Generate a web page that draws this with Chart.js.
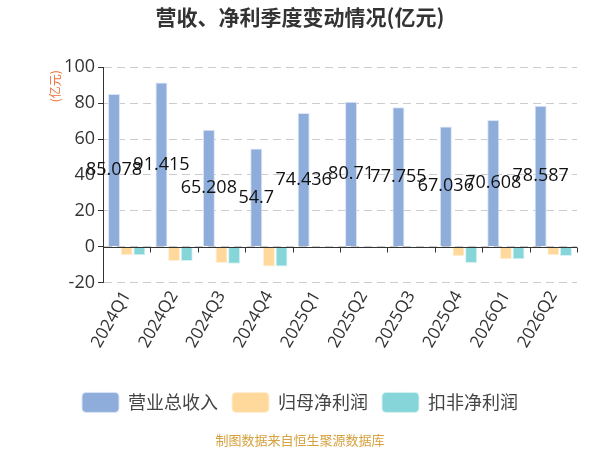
<!DOCTYPE html>
<html><head><meta charset="utf-8">
<script src="https://cdn.jsdelivr.net/npm/chart.js@4"></script>
<style>html,body{margin:0;padding:0;background:#fff}#wrap{width:600px;height:450px}</style>
</head><body><div id="wrap"><canvas id="c"></canvas></div>
<script>
const categories = ['2024Q1','2024Q2','2024Q3','2024Q4','2025Q1','2025Q2','2025Q3','2025Q4','2026Q1','2026Q2'];
const revenue = [85.078, 91.415, 65.208, 54.7, 74.436, 80.71, 77.755, 67.036, 70.608, 78.587];
const parentProfit = [-4.8, -8.0, -9.1, -11.0, 0, 0, 0, -5.3, -6.9, -4.8];
const deductedProfit = [-4.8, -8.0, -9.5, -11.0, 0, 0, 0, -9.0, -6.9, -5.1];
const seriesNames = ['营业总收入', '归母净利润', '扣非净利润'];
const yMin = -20, yMax = 100, yStep = 20;

const FONT = "'Open Sans', 'Noto Sans CJK SC', sans-serif";
const CJK = "'Noto Sans CJK SC', 'Open Sans', sans-serif";

const zeroAxis = {
  id: 'zeroAxis',
  afterDatasetsDraw(chart) {
    const {ctx, chartArea, scales: {x, y}} = chart;
    const y0 = Math.round(y.getPixelForValue(0)) + 0.5;
    const w = x.getPixelForValue(1) - x.getPixelForValue(0);
    ctx.save();
    ctx.strokeStyle = '#333';
    ctx.lineWidth = 1;
    ctx.beginPath();
    ctx.moveTo(chartArea.left, y0);
    ctx.lineTo(chartArea.right, y0);
    for (let i = 0; i <= categories.length; i++) {
      const bx = Math.round(x.getPixelForValue(0) - w / 2 + i * w) + 0.5;
      ctx.moveTo(bx, y0);
      ctx.lineTo(bx, y0 + 5);
    }
    ctx.stroke();
    ctx.restore();
  }
};

const valueLabels = {
  id: 'valueLabels',
  afterDatasetsDraw(chart) {
    const {ctx} = chart;
    const meta = chart.getDatasetMeta(0);
    ctx.save();
    ctx.font = "18px " + FONT;
    ctx.fillStyle = '#111';
    ctx.textAlign = 'center';
    ctx.textBaseline = 'middle';
    meta.data.forEach((bar, i) => {
      ctx.fillText(String(revenue[i]), bar.x, (bar.y + bar.base) / 2);
    });
    ctx.restore();
  }
};

const yUnitTitle = {
  id: 'yUnitTitle',
  afterDraw(chart) {
    const {ctx, chartArea} = chart;
    ctx.save();
    ctx.translate(chartArea.left - 48, chartArea.top + 19);
    ctx.rotate(-Math.PI / 2);
    ctx.font = "12px " + CJK;
    ctx.fillStyle = '#e8743b';
    ctx.textAlign = 'center';
    ctx.textBaseline = 'middle';
    ctx.fillText('(亿元)', 0, 0);
    ctx.restore();
  }
};

new Chart(document.getElementById('c'), {
  type: 'bar',
  data: {
    labels: categories,
    datasets: [
      {label: seriesNames[0], data: revenue, backgroundColor: '#8eaddb', borderColor: '#dbe6f6', borderWidth: 1},
      {label: seriesNames[1], data: parentProfit, backgroundColor: '#fed99b', borderColor: '#fff0d8', borderWidth: 1},
      {label: seriesNames[2], data: deductedProfit, backgroundColor: '#86d5d9', borderColor: '#d6f2f3', borderWidth: 1}
    ]
  },
  options: {
    responsive: true,
    maintainAspectRatio: false,
    animation: false,
    layout: {padding: {left: 23, right: 23, top: 0, bottom: 0}},
    datasets: {bar: {categoryPercentage: 0.8, barPercentage: 0.95}},
    scales: {
      x: {
        grid: {display: false, drawTicks: false},
        border: {display: false},
        ticks: {maxRotation: 60, minRotation: 60, color: '#333', font: {size: 17, family: FONT}, padding: 5, autoSkip: false},
        afterFit(scale) { scale.height += 22; }
      },
      y: {
        min: yMin, max: yMax,
        ticks: {stepSize: yStep, color: '#333', font: {size: 18, family: FONT}, padding: 3},
        grid: {color: '#cccccc', tickColor: '#333', tickLength: 5, tickBorderDash: []},
        border: {display: true, color: '#333', dash: [8, 5]},
        afterFit(scale) { scale.width = 80; }
      }
    },
    plugins: {
      title: {display: true, text: '营收、净利季度变动情况(亿元)', color: '#333', font: {size: 21, weight: 'bold', family: CJK}, padding: {top: 4, bottom: 38}},
      subtitle: {display: true, position: 'bottom', text: '制图数据来自恒生聚源数据库', color: '#d6a13f', font: {size: 13, family: CJK}, padding: {top: 10, bottom: 2}},
      legend: {
        position: 'bottom',
        labels: {boxWidth: 37, boxHeight: 20, useBorderRadius: true, borderRadius: 4, color: '#444', font: {size: 18, family: CJK}, padding: 14}
      },
      tooltip: {enabled: false}
    }
  },
  plugins: [zeroAxis, valueLabels, yUnitTitle]
});
</script></body></html>
